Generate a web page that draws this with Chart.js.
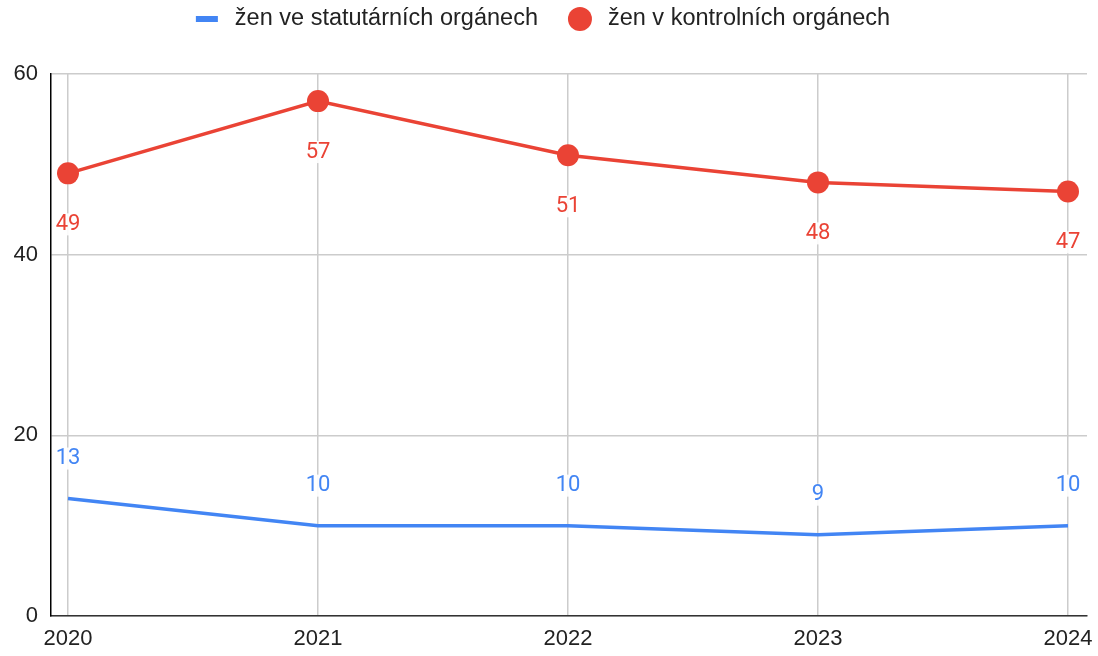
<!DOCTYPE html>
<html>
<head>
<meta charset="utf-8">
<script src="https://cdn.jsdelivr.net/npm/chart.js@4"></script>
<style>
  html, body { margin: 0; padding: 0; background: #fff; }
  #wrap { width: 1098px; height: 656px; }
</style>
</head>
<body>
<div id="wrap"><canvas id="chart" width="1098" height="656"></canvas></div>
<script>
// Data
const years = [2020, 2021, 2022, 2023, 2024];
const statutarni = [13, 10, 10, 9, 10];
const kontrolni = [49, 57, 51, 48, 47];
const yTicks = [0, 20, 40, 60];
const seriesLabels = ['žen ve statutárních orgánech', 'žen v kontrolních orgánech'];

const BLUE = '#4285f4';
const RED = '#ea4335';
const AXIS_FONT = '"Liberation Sans", Arial, sans-serif';

// Popisky hodnot u bodů
const valueLabels = {
    id: 'valueLabels',
    afterDatasetsDraw(chart) {
        const ctx = chart.ctx;
        ctx.save();
        ctx.font = '22px Roboto';
        ctx.textAlign = 'center';
        ctx.textBaseline = 'middle';
        chart.data.datasets.forEach((ds, di) => {
            const meta = chart.getDatasetMeta(di);
            const offset = di === 0 ? -40 : 51;
            meta.data.forEach((pt, i) => {
                const txt = String(ds.data[i].y);
                const w = ctx.measureText(txt).width;
                const y = pt.y + offset;
                ctx.fillStyle = 'rgba(255,255,255,0.9)';
                ctx.fillRect(pt.x - w / 2 - 2, y - 11, w + 4, 22);
                ctx.fillStyle = ds.borderColor;
                ctx.fillText(txt, pt.x, y);
            });
        });
        ctx.restore();
    }
};

// Legenda nahoře
const topLegend = {
    id: 'topLegend',
    afterDraw(chart) {
        const ctx = chart.ctx;
        ctx.save();
        ctx.font = '23.5px ' + AXIS_FONT;
        ctx.textBaseline = 'middle';
        const y = 19;
        const marker = 22, gap = 17, itemGap = 31;
        const widths = seriesLabels.map(t => ctx.measureText(t).width);
        const total = widths.reduce((a, w) => a + marker + gap + w, 0) + itemGap;
        let x = 543 - total / 2;
        seriesLabels.forEach((t, i) => {
            if (i === 0) {
                ctx.fillStyle = BLUE;
                ctx.fillRect(x, y - 3, marker, 6);
            } else {
                ctx.fillStyle = RED;
                ctx.beginPath();
                ctx.arc(x + marker / 2, y, 12, 0, Math.PI * 2);
                ctx.fill();
            }
            x += marker + gap;
            ctx.fillStyle = '#222';
            ctx.fillText(t, x, y);
            x += widths[i] + itemGap;
        });
        ctx.restore();
    }
};

const ctx = document.getElementById('chart');
new Chart(ctx, {
    type: 'line',
    data: {
        datasets: [
            {
                label: seriesLabels[0],
                data: years.map((x, i) => ({ x, y: statutarni[i] })),
                borderColor: BLUE,
                backgroundColor: BLUE,
                borderWidth: 3.5,
                pointRadius: 0,
                tension: 0
            },
            {
                label: seriesLabels[1],
                data: years.map((x, i) => ({ x, y: kontrolni[i] })),
                borderColor: RED,
                backgroundColor: RED,
                borderWidth: 3.5,
                pointRadius: 11,
                pointBorderWidth: 0,
                pointBackgroundColor: RED,
                tension: 0
            }
        ]
    },
    options: {
        responsive: false,
        animation: false,
        layout: { padding: { top: 74, right: 11, left: 0, bottom: 0 } },
        plugins: {
            legend: { display: false },
            tooltip: { enabled: false }
        },
        scales: {
            x: {
                type: 'linear',
                min: 2020 - 17 / 250,
                max: 2024 + 19 / 250,
                afterBuildTicks: axis => { axis.ticks = years.map(v => ({ value: v })); },
                afterFit: axis => { axis.height = 40; axis.paddingLeft = 0; axis.paddingRight = 0; },
                grid: { color: '#cccccc', lineWidth: 1.5, drawTicks: false },
                border: { color: '#333333', width: 1.5 },
                ticks: {
                    padding: 10,
                    color: '#222',
                    font: { family: AXIS_FONT, size: 22 },
                    callback: v => String(v)
                }
            },
            y: {
                min: 0,
                max: 60,
                afterBuildTicks: axis => { axis.ticks = yTicks.map(v => ({ value: v })); },
                afterFit: axis => { axis.width = 51; axis.paddingTop = 0; axis.paddingBottom = 0; },
                grid: { color: '#cccccc', lineWidth: 1.5, drawTicks: false },
                border: { color: '#000000', width: 1.5 },
                ticks: {
                    padding: 13,
                    color: '#222',
                    font: { family: AXIS_FONT, size: 22 }
                }
            }
        }
    },
    plugins: [valueLabels, topLegend]
});
</script>
</body>
</html>
